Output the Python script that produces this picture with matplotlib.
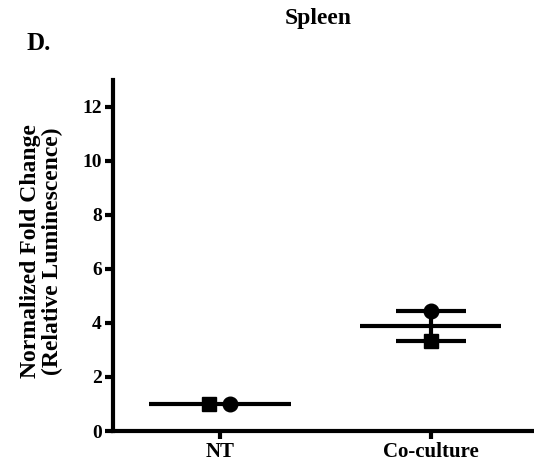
import matplotlib
matplotlib.use("Agg")
import matplotlib.pyplot as plt
import numpy as np

categories = ["NT", "Co-culture"]
circle_vals = [1.0, 4.45]
square_vals = [1.0, 3.32]
nt_offsets = [-0.05, 0.05]  # horizontal jitter for NT points (square, circle)
y_ticks = [0, 2, 4, 6, 8, 10, 12]

plt.rcParams['font.family'] = ['Liberation Serif', 'DejaVu Serif']
plt.rcParams['font.weight'] = 'bold'

fig = plt.figure(figsize=(5.34, 4.65), dpi=100)
ax = fig.add_axes([0.2116, 0.0731, 0.7884, 0.755])

x = np.arange(len(categories))
vals = np.array([square_vals, circle_vals]).T  # rows=categories
means = vals.mean(axis=1)
sems = vals.std(axis=1, ddof=1) / np.sqrt(vals.shape[1])

lw = 3
for i in range(len(categories)):
    ax.plot([x[i] - 0.335, x[i] + 0.335], [means[i], means[i]], color='black', lw=lw, solid_capstyle='butt', zorder=2)
    if sems[i] > 0:
        ax.errorbar(x[i], means[i], yerr=sems[i], color='black', lw=lw, capsize=25, capthick=lw, zorder=2)

# NT points are jittered horizontally; Co-culture stacked
sq_x = [x[0] + nt_offsets[0], x[1]]
ci_x = [x[0] + nt_offsets[1], x[1]]
ax.plot(sq_x, square_vals, 's', color='black', ms=10, ls='none', zorder=3)
ax.plot(ci_x, circle_vals, 'o', color='black', ms=10.5, ls='none', zorder=3)

ax.set_xlim(-0.507, 1.49)
ax.set_ylim(0, 13)
ax.set_yticks(y_ticks)
ax.set_xticks(x)
ax.set_xticklabels(categories, fontsize=15, fontweight='bold')
ax.set_yticklabels([str(t) for t in y_ticks], fontsize=14, fontweight='bold')
for s in ['top', 'right']:
    ax.spines[s].set_visible(False)
for s in ['left', 'bottom']:
    ax.spines[s].set_linewidth(3)
ax.tick_params(axis='both', width=3, length=6, pad=2)

fig.text(0.077, 0.46, "Normalized Fold Change\n(Relative Luminescence)", rotation=90,
         ha='center', va='center', fontsize=17, fontweight='bold', linespacing=1.05)
fig.text(0.596, 0.961, "Spleen", ha='center', va='center', fontsize=17, fontweight='bold')
fig.text(0.05, 0.907, "D.", ha='left', va='center', fontsize=18, fontweight='bold')

fig.savefig("out.png", dpi=100)
